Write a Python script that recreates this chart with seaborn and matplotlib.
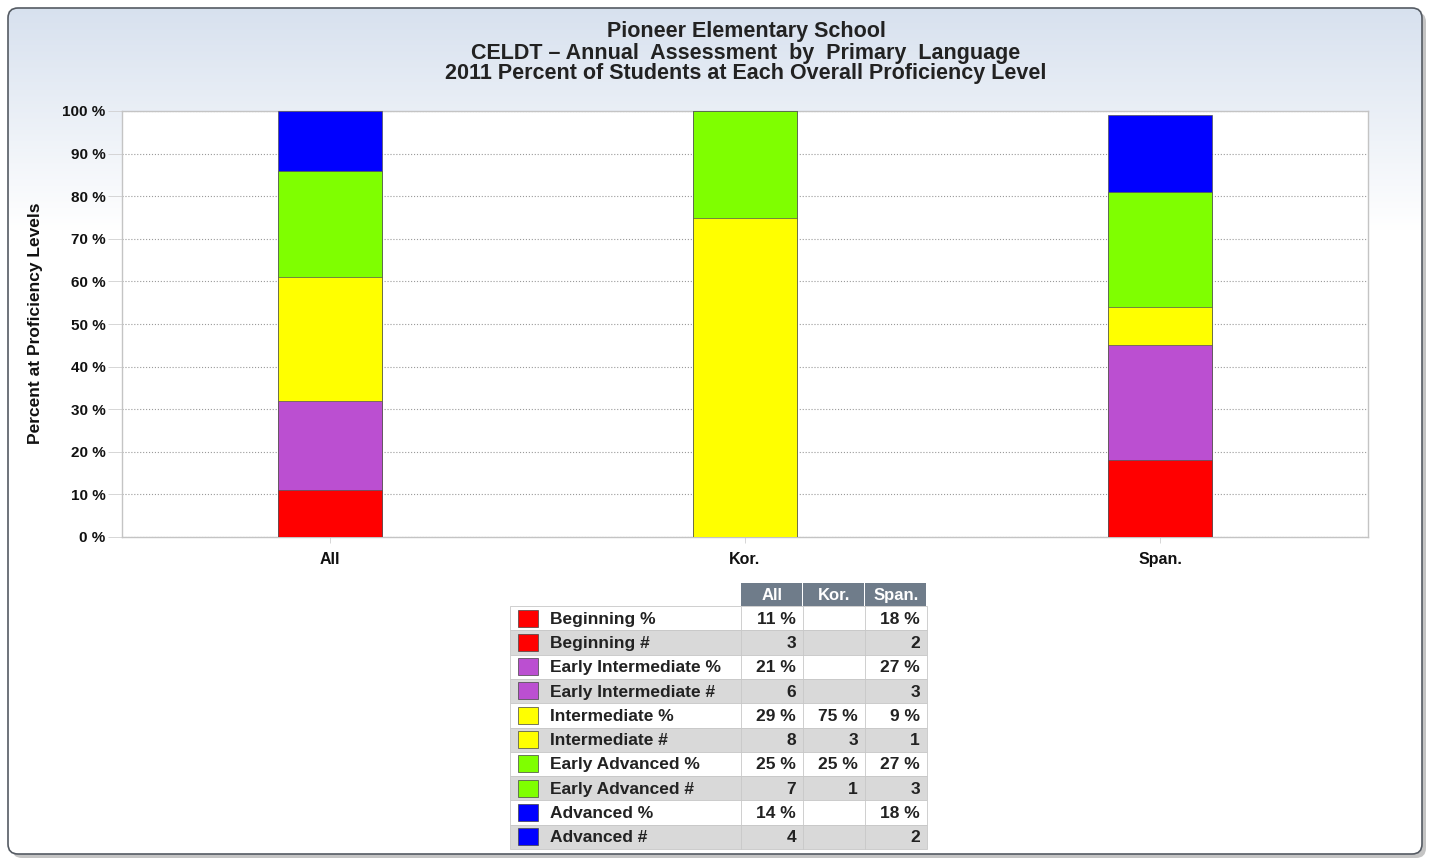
import numpy as np
import pandas as pd
import matplotlib
import matplotlib.pyplot as plt
from matplotlib.patches import FancyBboxPatch, Rectangle
import seaborn as sns

matplotlib.use('Agg')

# data
groups = ['All', 'Kor.', 'Span.']
levels = ['Beginning', 'Early Intermediate', 'Intermediate', 'Early Advanced', 'Advanced']
level_colors = ['#ff0000', '#bb4fd1', '#ffff00', '#7fff00', '#0000ff']
pct_all = [11, 21, 29, 25, 14]
pct_kor = [0, 0, 75, 25, 0]
pct_span = [18, 27, 9, 27, 18]
cnt_all = [3, 6, 8, 7, 4]
cnt_kor = [None, None, 3, 1, None]
cnt_span = [2, 3, 1, 3, 2]
title_lines = ['Pioneer Elementary School',
               'CELDT \u2013 Annual  Assessment  by  Primary  Language',
               '2011 Percent of Students at Each Overall Proficiency Level']
ylabel = 'Percent at Proficiency Levels'

sns.set_theme(style="white")
plt.rcParams['font.family'] = ['Liberation Sans', 'DejaVu Sans']

W, H = 1430, 858
fig = plt.figure(figsize=(W / 100, H / 100), dpi=100)
fig.patch.set_facecolor('white')

# fond du panneau : dégradé + bord arrondi
bg = fig.add_axes([0, 0, 1, 1], zorder=-5)
bg.set_xlim(0, W)
bg.set_ylim(H, 0)
bg.axis('off')
shadow = FancyBboxPatch((12, 12), 1414, 846, boxstyle='round,pad=0,rounding_size=10',
                        fc='#c4c4c4', ec='none', zorder=-2)
bg.add_patch(shadow)
frame = FancyBboxPatch((8, 8), 1414, 846, boxstyle='round,pad=0,rounding_size=10',
                       fc='none', ec='#555b63', lw=1.2, zorder=2)
bg.add_patch(frame)
grad = np.ones((H, 1, 3))
top = np.array([0xd6, 0xe0, 0xee]) / 255
for i in range(H):
    t = min(i / 230, 1.0)
    grad[i, 0] = top * (1 - t) + np.array([1, 1, 1]) * t
img = bg.imshow(grad, extent=(0, W, H, 0), aspect='auto', zorder=0)
img.set_clip_path(frame)

# titres
for k, line in enumerate(title_lines):
    fig.text(746 / W, 1 - (32 + 21 * k) / H, line, ha='center', va='center',
             fontsize=15.5, fontweight='bold', color='#222222')

fig.text(36 / W, 1 - 323 / H, ylabel, rotation=90, ha='center', va='center',
         fontsize=12.5, fontweight='bold', color='#111111',
         family=['Liberation Sans Narrow', 'Liberation Sans'])

# graphique principal (barres empilées)
ax = fig.add_axes([122 / W, 1 - 537 / H, 1246 / W, 426 / H])
ax.set_facecolor('white')
pct = pd.DataFrame({'All': pct_all, 'Kor.': pct_kor, 'Span.': pct_span}, index=levels)
cum = pct.cumsum()
for i in range(len(levels) - 1, -1, -1):
    sns.barplot(x=groups, y=cum.iloc[i].values, color=level_colors[i], width=0.25,
                saturation=1, edgecolor='#555555', linewidth=0.5, ax=ax, zorder=3)
ax.set_xlim(-0.5, 2.5)
ax.set_ylim(0, 100)
ax.set_yticks(range(0, 101, 10))
ax.set_yticklabels([f'{v} %' for v in range(0, 101, 10)])
ax.yaxis.grid(True, linestyle=':', color='#9a9a9a', linewidth=0.8, zorder=0)
ax.set_axisbelow(True)
for s in ax.spines.values():
    s.set_color('#c4c4c4')
    s.set_linewidth(1)
ax.tick_params(axis='y', length=10, width=0.6, color='#d0d0d0', pad=2,
               labelsize=11, left=True)
ax.tick_params(axis='x', length=4, width=0.6, color='#d0d0d0', pad=7, labelsize=11.5,
               bottom=True)
for lab in ax.get_xticklabels() + ax.get_yticklabels():
    lab.set_fontweight('bold')
    lab.set_color('#111111')
ax.set_xlabel('')
ax.set_ylabel('')

# tableau de données
tb = fig.add_axes([0, 0, 1, 1], zorder=5)
tb.set_xlim(0, W)
tb.set_ylim(H, 0)
tb.axis('off')
col_x = [510, 741, 803, 865, 927]
hdr_top, hdr_bot = 583, 606
row_h = 24.3
for j, g in enumerate(groups):
    tb.add_patch(Rectangle((col_x[j + 1], hdr_top), col_x[j + 2] - col_x[j + 1] - 1,
                           hdr_bot - hdr_top, fc='#6f7c8a', ec='none'))
    tb.text((col_x[j + 1] + col_x[j + 2]) / 2, (hdr_top + hdr_bot) / 2 + 1, g,
            ha='center', va='center', color='white', fontsize=12, fontweight='bold')

rows = []
for i, lv in enumerate(levels):
    rows.append((lv + ' %', level_colors[i],
                 [f'{v} %' if v else '' for v in (pct_all[i], pct_kor[i], pct_span[i])]))
    rows.append((lv + ' #', level_colors[i],
                 ['' if v is None else str(v) for v in (cnt_all[i], cnt_kor[i], cnt_span[i])]))

for r, (label, c, vals) in enumerate(rows):
    y0 = hdr_bot + r * row_h
    fc = 'white' if r % 2 == 0 else '#d9d9d9'
    tb.add_patch(Rectangle((col_x[0], y0), col_x[-1] - col_x[0], row_h, fc=fc,
                           ec='#c8c8c8', lw=0.6))
    for xv in col_x[1:-1]:
        tb.plot([xv, xv], [y0, y0 + row_h], color='#c8c8c8', lw=0.6)
    tb.add_patch(Rectangle((518, y0 + 3.5), 20, 17, fc=c, ec='#444444', lw=0.5))
    tb.text(550, y0 + row_h / 2 + 1, label, ha='left', va='center', fontsize=12.5,
            fontweight='bold', color='#222222')
    for j, v in enumerate(vals):
        tb.text(col_x[j + 2] - 7, y0 + row_h / 2 + 1, v, ha='right', va='center',
                fontsize=12.5, fontweight='bold', color='#222222')

plt.savefig('out.png', dpi=100)
